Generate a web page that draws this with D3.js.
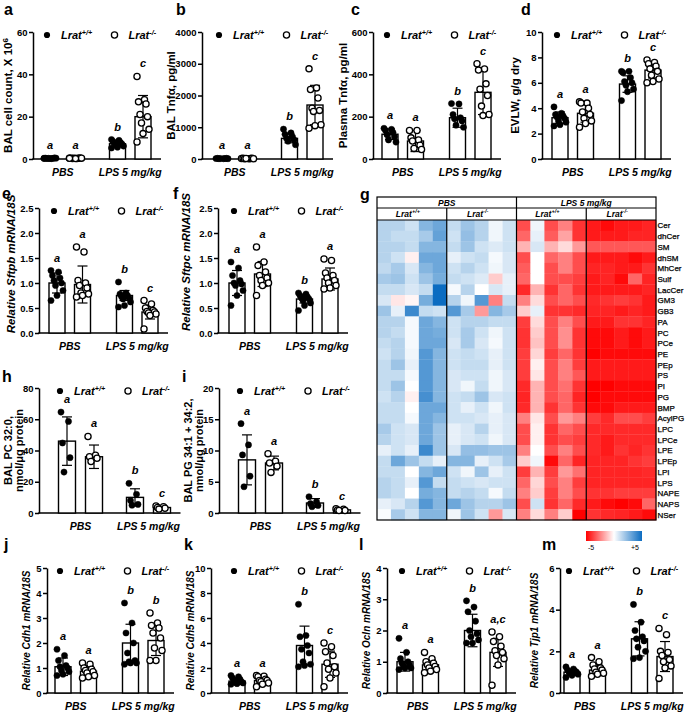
<!DOCTYPE html>
<html>
<head>
<meta charset="utf-8">
<script src="https://cdn.jsdelivr.net/npm/d3@7"></script>
<style>
body { margin: 0; background: #fff; }
text { font-family: "Liberation Sans", Arial, sans-serif; }
</style>
</head>
<body>
<div id="fig"></div>
<script>
// ---- data ----
var groups = ["PBS", "LPS 5 mg/kg"];
var genoSup = ["+/+", "-/-"];

// a: BAL cell count
var aTicks = [0, 20, 40, 60];
var aMean = [0.3, 0.3, 7.2, 20];
var aSD = [0.15, 0.15, 1.3, 10];
var aSig = ["a", "a", "b", "c"];
var aPts = [
  [0.3, 0.2, 0.4, 0.3, 0.2, 0.5, 0.3, 0.4, 0.2, 0.3],
  [0.3, 0.2, 0.4, 0.3, 0.2, 0.5, 0.3, 0.4, 0.2, 0.3],
  [9.2, 8.8, 8.3, 7.8, 7.4, 7.0, 6.6, 6.1, 5.6, 5.2],
  [39, 28, 27, 26, 21, 20, 17, 14, 12, 8]
];
// b: BAL Tnfa
var bTicks = [0, 1000, 2000, 3000, 4000];
var bMean = [15, 15, 650, 1700];
var bSD = [5, 5, 140, 620];
var bSig = ["a", "a", "b", "c"];
var bPts = [
  [15, 10, 20, 15, 10, 20, 15, 10],
  [15, 10, 20, 15, 10, 20, 15, 10],
  [940, 820, 780, 700, 650, 600, 560, 450],
  [2840, 2240, 2190, 1920, 1600, 1530, 1500, 1080, 1050, 970]
];
// c: Plasma Tnfa
var cTicks = [0, 200, 400, 600];
var cMean = [117, 85, 195, 315];
var cSD = [25, 50, 45, 105];
var cSig = ["a", "a", "b", "c"];
var cPts = [
  [145, 140, 135, 125, 115, 105, 90, 80],
  [135, 135, 100, 90, 85, 65, 50, 45],
  [262, 260, 210, 195, 190, 180, 160, 150],
  [450, 425, 420, 355, 330, 300, 250, 210, 205]
];
// d: EVLW
var dTicks = [0, 2, 4, 6, 8, 10];
var dMean = [3.25, 3.6, 5.9, 7.0];
var dSD = [0.45, 0.7, 0.65, 0.62];
var dSig = ["a", "a", "b", "c"];
var dPts = [
  [4.1, 3.6, 3.5, 3.4, 3.3, 3.2, 3.0, 2.9, 2.7, 2.6],
  [4.5, 4.4, 4.4, 4.0, 3.7, 3.5, 3.2, 3.0, 2.8, 2.5],
  [6.9, 6.9, 6.8, 6.4, 6.1, 6.0, 5.8, 5.5, 5.3, 4.6],
  [7.8, 7.6, 7.5, 7.3, 7.1, 6.9, 6.6, 6.3, 6.1, 6.0]
];
// e: Sftpb
var eTicks = [0, 0.5, 1.0, 1.5, 2.0, 2.5];
var eMean = [1.0, 0.97, 0.75, 0.42];
var eSD = [0.2, 0.37, 0.1, 0.14];
var eSig = ["a", "a", "b", "c"];
var ePts = [
  [1.25, 1.22, 1.15, 1.1, 1.05, 1.0, 0.95, 0.85, 0.75, 0.65],
  [1.72, 1.62, 1.05, 1.0, 0.95, 0.9, 0.8, 0.78, 0.75, 0.72],
  [1.02, 0.8, 0.78, 0.75, 0.73, 0.7, 0.68, 0.62, 0.55, 0.52],
  [0.65, 0.58, 0.5, 0.45, 0.43, 0.42, 0.4, 0.38, 0.35, 0.08]
];
// f: Sftpc
var fTicks = [0, 0.5, 1.0, 1.5, 2.0, 2.5];
var fMean = [1.0, 1.18, 0.68, 1.08];
var fSD = [0.25, 0.25, 0.08, 0.22];
var fSig = ["a", "a", "b", "a"];
var fPts = [
  [1.42, 1.3, 1.15, 1.05, 1.0, 0.98, 0.95, 0.85, 0.75, 0.55],
  [1.72, 1.42, 1.35, 1.22, 1.15, 1.1, 1.05, 1.0, 0.95, 0.75],
  [0.8, 0.78, 0.75, 0.72, 0.7, 0.68, 0.65, 0.6, 0.55, 0.45],
  [1.48, 1.45, 1.2, 1.15, 1.1, 1.05, 1.0, 0.95, 0.9, 0.88]
];
// h: BAL PC 32:0
var hTicks = [0, 20, 40, 60, 80];
var hMean = [46, 36, 10, 3.5];
var hSD = [15.5, 7.5, 5.5, 0.8];
var hSig = ["a", "a", "b", "c"];
var hPts = [
  [64.6, 58.6, 44.8, 35.4, 26.2],
  [49, 37, 36, 35, 33],
  [19, 12, 8, 5.5, 5],
  [4.5, 4, 3.5, 3, 2.5]
];
// i: BAL PG 34:1 + 34:2
var iTicks = [0, 5, 10, 15, 20];
var iMean = [8.5, 8.0, 1.6, 0.5];
var iSD = [4, 1.1, 0.7, 0.15];
var iSig = ["a", "a", "b", "c"];
var iPts = [
  [14.3, 10.9, 9.3, 5.9, 4.2],
  [9.5, 8.3, 8.0, 7.5, 6.5],
  [2.6, 1.8, 1.5, 1.2, 1.0],
  [0.7, 0.6, 0.5, 0.4, 0.4]
];
// j: Cdh1
var jTicks = [0, 1, 2, 3, 4, 5];
var jMean = [1.05, 0.87, 2.0, 2.1];
var jSD = [0.35, 0.22, 0.75, 0.6];
var jSig = ["a", "a", "b", "b"];
var jPts = [
  [1.75, 1.5, 1.3, 1.1, 1.05, 1.0, 0.9, 0.85, 0.75, 0.7],
  [1.2, 1.15, 1.0, 0.95, 0.9, 0.85, 0.8, 0.7, 0.65, 0.6],
  [3.6, 2.8, 2.4, 2.0, 1.6, 1.3, 1.25, 1.2, 1.2, 1.15],
  [3.2, 2.8, 2.7, 2.6, 2.4, 2.2, 1.8, 1.7, 1.3, 1.3]
];
// k: Cdh5
var kTicks = [0, 2, 4, 6, 8, 10];
var kMean = [0.95, 1.0, 3.8, 2.3];
var kSD = [0.25, 0.25, 1.55, 1.05];
var kSig = ["a", "a", "b", "c"];
var kPts = [
  [1.4, 1.3, 1.2, 1.1, 1.0, 0.9, 0.85, 0.8, 0.75, 0.7],
  [1.4, 1.35, 1.3, 1.1, 1.0, 1.0, 0.9, 0.8, 0.7, 0.5],
  [7.1, 4.6, 4.5, 3.8, 3.5, 3.2, 2.5, 2.3, 2.2, 2.1],
  [4.0, 3.7, 3.3, 3.0, 2.4, 2.1, 1.9, 1.6, 1.2, 0.5]
];
// l: Ocln
var lTicks = [0, 1, 2, 3, 4];
var lMean = [1.0, 0.9, 2.0, 1.3];
var lSD = [0.3, 0.17, 0.52, 0.45];
var lSig = ["a", "a", "b", "a,c"];
var lPts = [
  [1.75, 1.3, 1.1, 1.0, 0.95, 0.9, 0.85, 0.8, 0.8, 0.75],
  [1.3, 1.1, 1.0, 0.95, 0.9, 0.85, 0.8, 0.75, 0.7, 0.65],
  [2.95, 2.75, 2.6, 2.3, 2.0, 1.9, 1.8, 1.7, 1.6, 1.6],
  [1.95, 1.8, 1.65, 1.5, 1.35, 1.3, 1.2, 1.1, 0.9, 0.25]
];
// m: Tjp1
var mTicks = [0, 2, 4, 6];
var mMean = [1.0, 1.1, 2.6, 1.75];
var mSD = [0.15, 0.25, 0.82, 0.72];
var mSig = ["a", "a", "b", "c"];
var mPts = [
  [1.25, 1.15, 1.1, 1.05, 1.0, 1.0, 0.95, 0.9, 0.85, 0.75],
  [1.7, 1.5, 1.35, 1.2, 1.15, 1.1, 1.0, 0.95, 0.9, 0.8],
  [4.25, 3.4, 3.0, 2.7, 2.6, 2.5, 2.2, 2.0, 1.7, 1.65],
  [3.1, 2.8, 2.0, 1.95, 1.8, 1.6, 1.5, 1.3, 1.2, 0.7]
];

// g: lipid heatmap (z-scores, + blue / - red), 4 groups x 5 mice
var lipids = ["Cer", "dhCer", "SM", "dhSM", "MhCer", "Sulf", "LacCer", "GM3", "GB3", "PA", "PC", "PCe",
  "PE", "PEp", "PS", "PI", "PG", "BMP", "AcylPG", "LPC", "LPCe", "LPE", "LPEp", "LPI", "LPS", "NAPE", "NAPS", "NSer"];
var heatGroups = ["PBS", "LPS 5 mg/kg"];
var heatValues = [
  [1.5, 1.5, 1, 2.5, 3,   1.2, 2, 1.5, 0.3, 1,   -3.5, 0.3, -3.5, -2.5, -4,   -4.5, -4.8, -4.5, -4.5, -4.3],
  [1.5, 1.2, 1.2, 1.8, 3.2,   1, 2.2, 1.5, 0.3, 1,   -3, 0.5, -3.2, -1.8, -4,   -4.5, -4.5, -4.5, -4.3, -4.3],
  [1.5, 1.5, 1.2, 2.5, 2.5,   1.2, 2, 1, 0.7, 1,   -1.5, 0.8, -1.5, -0.7, -2,   -3.3, -3.3, -3.3, -3.3, -3.3],
  [1.5, 1, -0.3, 3, 3,   0.5, 1, 1.2, 0.2, 0.8,   -3.5, 0, -3, -2.5, -3.5,   -4.5, -4.5, -4.5, -4.8, -4.5],
  [1.3, 1.8, 0.8, 2.5, 3,   1, 1.5, 1, 0.3, 0.8,   -3.2, 0, -3.5, -2.5, -3.5,   -4.3, -4.3, -4.5, -4.5, -4],
  [1.8, 2, 1, 2, 2.8,   1.2, 1, 0.7, -1, 0.5,   -3, 0, -3.5, -3.5, -3.8,   -4.5, -4.3, -4.8, -3, -4.3],
  [1.2, 1.2, 0.8, 1.2, 5,   0.2, 1.5, 0, 0.8, 0.5,   -4.2, -1.5, -4, -3, -4,   -4.5, -4.5, -4.5, -4.5, -4.3],
  [0.8, -0.5, -0.2, 2.8, 5,   1.5, 0.3, 3.5, -2.5, 1.2,   -2.5, -0.7, -3.5, -3, -3.5,   -4.2, -4, -3.8, -4, -4.5],
  [2, 0.5, 4, 1.2, 1,   3.5, 1.8, -2, 2.5, 1.8,   -1, 0.5, -4, -4, -4.2,   -4.3, -4.3, -4.5, -4.3, -4.5],
  [1.5, 1.5, 0.2, 3, 2.5,   1, 1.5, 1.5, 1.2, 1.2,   -3.8, -0.7, -3.5, -2.5, -3.5,   -4.5, -4.5, -4, -4, -4.3],
  [1.5, 1.2, 0.2, 3, 2.8,   1, 1.8, 1, 0.3, 1,   -4, -1, -3.5, -2.2, -4,   -4.8, -4.8, -4.5, -4.8, -4.5],
  [1.2, 1.5, 0.2, 3, 3,   0.8, 1.8, 0.8, 0.2, 1,   -4, -1.2, -3.5, -2.2, -4,   -4.8, -4.8, -4.5, -4.8, -4.5],
  [1, 1.5, 0.3, 3.5, 2.5,   1, 1.2, 1, 0.5, 1,   -3.8, -0.8, -3.8, -3, -4,   -5, -4.8, -4.8, -4.8, -4.8],
  [1.2, 2, 0.5, 3.5, 2.5,   1, 1.2, 1.2, 0.5, 1,   -3.8, -0.3, -3.5, -2.5, -3.8,   -4.5, -4.5, -4.5, -4.5, -4.5],
  [1.2, 1.2, 0.2, 3.5, 2.5,   0.8, 1, 1, 0.3, 0.8,   -3.8, -0.5, -3.5, -2.5, -3.3,   -4.5, -4.5, -4.5, -4.5, -4.5],
  [1.2, 2, 0, 3.5, 2.5,   0.8, 0.3, 1.2, 0.3, 0.8,   -4.2, -1.5, -3.5, -2.8, -4,   -5, -5, -4.8, -4.8, -4.8],
  [1, 1.5, -0.3, 3.8, 2.5,   1, 1.2, 2, 0.8, 1,   -4.3, -1.5, -3.5, -3, -4.3,   -5, -4.8, -4.8, -4.8, -4.8],
  [1.2, 1.2, 0, 3, 3,   1, 0.5, 1, 0.3, 1,   -4.2, -1.5, -4, -3, -4,   -4.8, -4.8, -4.5, -4.5, -4.5],
  [1.2, 1.2, 0.2, 3, 2.5,   1, 1, 0.8, 0.5, 0.8,   -2.5, -0.5, -3.5, -2, -2.5,   -3.8, -4.2, -3.5, -3.5, -3.8],
  [1.8, 1, 0.8, 3, 2,   0.5, 0.8, 1.5, 0.5, 0.8,   -3.5, -0.3, -4, -3, -3.5,   -4.2, -4.2, -4.2, -4.2, -4.2],
  [1.5, 1, 0.8, 3, 2,   0.5, 0.8, 1, 0.3, 0.8,   -3.5, -0.3, -4, -3.5, -3.8,   -4.2, -4.5, -4.2, -4.2, -4.2],
  [0.5, 1, 0.5, 4, 2,   0.8, 2.2, 2.2, 2, 2,   -2.5, 0, -3.5, -2.5, -3.5,   -4.2, -4.5, -4, -4.3, -4],
  [1.2, 3, 2, 1.2, 0.5,   2.5, 2.5, 0.5, 1, 1.8,   -1, 0.3, -4.8, -3, -4.3,   -4.3, -4.3, -4.3, -4, -3.8],
  [1.2, 1.2, 0, 2.5, 3,   1, 0.3, 2, 0.5, 1,   -3.8, -1.5, -3.8, -2, -2.8,   -4.3, -4.3, -4.3, -4.3, -4.2],
  [1.5, 1.2, 0.5, 3.5, 1.2,   1.2, 1, 0.8, 1, 1,   -3, -0.8, -3.5, -2.5, -3.8,   -4.3, -4.3, -4.3, -4.3, -4.3],
  [1.5, 1.2, 0, 2.8, 2.5,   1.2, 1.5, 1.2, 0.2, 1.2,   -2.5, -1, -3.8, -2.5, -3.5,   -4, -4, -3.8, -3.8, -3.8],
  [0.5, 0.8, 1.5, 3.5, 2.5,   3, 2, 1.5, 1.5, 2,   -3.5, 1, -4, -3, -4.2,   -4.5, -4.8, -5, -4.8, -3],
  [0.1, 1.8, 1, 2.5, 2.5,   0.3, 2, 1, -2, 0.8,   -2.5, -0.7, -2.5, -1, -5,   -4, -4.2, -4.3, -4.5, -4.8]
];
var heatLegendTicks = ["-5", "+5"];

// ---- layout ----
var svg = d3.select("#fig").append("svg")
    .attr("width", 685)
    .attr("height", 712);

// lo = distance from axis to centre of the rotated y label (one per line)
var panels = [
  {letter: "a", lx: 4, ly: 15, ax: 33, o: 17, top: 32, bottom: 159, ticks: aTicks, mean: aMean, sd: aSD, pts: aPts, sig: aSig,
   label: [[{t: "BAL cell count, X 10"}, {t: "6", sup: true}]], lo: [25], ls: "normal", lsize: 11.5},
  {letter: "b", lx: 176, ly: 15, ax: 202, o: 20, top: 32, bottom: 159, ticks: bTicks, mean: bMean, sd: bSD, pts: bPts, sig: bSig,
   label: [[{t: "BAL Tnf\u03b1, pg/ml"}]], lo: [31], ls: "normal", lsize: 11.5},
  {letter: "c", lx: 351, ly: 15, ax: 373, o: 17, top: 32, bottom: 159, ticks: cTicks, mean: cMean, sd: cSD, pts: cPts, sig: cSig,
   label: [[{t: "Plasma Tnf\u03b1, pg/ml"}]], lo: [30], ls: "normal", lsize: 11.5},
  {letter: "d", lx: 521, ly: 15, ax: 542, o: 18, top: 32, bottom: 159, ticks: dTicks, mean: dMean, sd: dSD, pts: dPts, sig: dSig,
   label: [[{t: "EVLW, g/g dry"}]], lo: [27], ls: "normal", lsize: 11.5},
  {letter: "e", lx: 2, ly: 199, ax: 39, o: 18, top: 208, bottom: 333, ticks: eTicks, mean: eMean, sd: eSD, pts: ePts, sig: eSig,
   label: [[{t: "Relative Sftpb mRNA/18S"}]], lo: [28], ls: "italic", lsize: 11.5, lyc: 264, fmt: ".1f"},
  {letter: "f", lx: 173, ly: 199, ax: 218, o: 19, top: 208, bottom: 333, ticks: fTicks, mean: fMean, sd: fSD, pts: fPts, sig: fSig,
   label: [[{t: "Relative Sftpc mRNA/18S"}]], lo: [32], ls: "italic", lsize: 11.5, lyc: 262, fmt: ".1f"},
  {letter: "h", lx: 2, ly: 382, ax: 39, o: 28, wide: true, top: 388, bottom: 513, ticks: hTicks, mean: hMean, sd: hSD, pts: hPts, sig: hSig,
   label: [[{t: "BAL PC 32:0,"}], [{t: "nmol/\u03bcg protein"}]], lo: [31, 20], ls: "normal", lsize: 11},
  {letter: "i", lx: 182, ly: 382, ax: 219, o: 28, wide: true, top: 388, bottom: 513, ticks: iTicks, mean: iMean, sd: iSD, pts: iPts, sig: iSig,
   label: [[{t: "BAL PG 34:1 + 34:2,"}], [{t: "nmol/\u03bcg protein"}]], lo: [31, 20], ls: "normal", lsize: 11},
  {letter: "j", lx: 4, ly: 550, ax: 47, o: 16, top: 568, bottom: 693, ticks: jTicks, mean: jMean, sd: jSD, pts: jPts, sig: jSig,
   label: [[{t: "Relative Cdh1 mRNA/18S"}]], lo: [21], ls: "italic", lsize: 10},
  {letter: "k", lx: 184, ly: 550, ax: 211, o: 26, top: 568, bottom: 693, ticks: kTicks, mean: kMean, sd: kSD, pts: kPts, sig: kSig,
   label: [[{t: "Relative Cdh5 mRNA/18S"}]], lo: [21], ls: "italic", lsize: 10},
  {letter: "l", lx: 359, ly: 550, ax: 387, o: 18, top: 568, bottom: 693, ticks: lTicks, mean: lMean, sd: lSD, pts: lPts, sig: lSig,
   label: [[{t: "Relative Ocln mRNA/18S"}]], lo: [21], ls: "italic", lsize: 10},
  {letter: "m", lx: 542, ly: 550, ax: 560, o: 12, top: 568, bottom: 693, ticks: mTicks, mean: mMean, sd: mSD, pts: mPts, sig: mSig,
   label: [[{t: "Relative Tjp1 mRNA/18S"}]], lo: [26], ls: "italic", lsize: 10}
];

function lratText(sel, i, size) {
    sel.append("tspan").text("Lrat");
    sel.append("tspan").attr("dy", -4).attr("font-size", size * 0.65).text(genoSup[i]);
}

function drawPanel(p) {
    var g = svg.append("g");
    var y = d3.scaleLinear()
        .domain([0, p.ticks[p.ticks.length - 1]])
        .range([p.bottom, p.top]);
    var gap = p.wide ? 27 : 25.5;
    var sep = p.wide ? 68 : 67.5;
    var bw = p.wide ? 17 : 16;
    var x = d3.scalePoint()
        .domain(groups)
        .range([p.ax + p.o + gap / 2, p.ax + p.o + gap / 2 + sep]);
    var cx = function (i) { return x(groups[Math.floor(i / 2)]) + (i % 2 ? gap / 2 : -gap / 2); };
    var xEnd = cx(3) + bw / 2 + 10;

    // y axis
    var yAxis = d3.axisLeft(y)
        .tickValues(p.ticks)
        .tickSize(4)
        .tickSizeOuter(0)
        .tickPadding(1.5)
        .tickFormat(d3.format(p.fmt || "d"));
    var ya = g.append("g")
        .attr("transform", "translate(" + p.ax + ",0)")
        .call(yAxis);
    ya.select(".domain").attr("stroke-width", 1.5);
    ya.selectAll(".tick line").attr("stroke-width", 1.5);
    ya.selectAll(".tick text").attr("font-size", 9.5).attr("font-weight", "bold").attr("fill", "#000");

    // x axis line
    g.append("line")
        .attr("x1", p.ax - 0.75).attr("x2", xEnd)
        .attr("y1", p.bottom).attr("y2", p.bottom)
        .attr("stroke", "#000").attr("stroke-width", 1.5);

    // bars
    g.selectAll("rect.bar")
        .data(p.mean)
        .enter()
        .append("rect")
        .attr("class", "bar")
        .attr("x", function (d, i) { return cx(i) - bw / 2; })
        .attr("y", function (d) { return y(d); })
        .attr("width", bw)
        .attr("height", function (d) { return p.bottom - y(d); })
        .attr("fill", "#fff")
        .attr("stroke", "#000")
        .attr("stroke-width", 1.4);

    // error bars (mean +/- SD)
    p.mean.forEach(function (m, i) {
        var hi = y(m + p.sd[i]), lo = y(Math.max(0, m - p.sd[i]));
        var eb = g.append("g").attr("stroke", "#000").attr("stroke-width", 1.2);
        eb.append("line").attr("x1", cx(i)).attr("x2", cx(i)).attr("y1", hi).attr("y2", lo);
        eb.append("line").attr("x1", cx(i) - 5).attr("x2", cx(i) + 5).attr("y1", hi).attr("y2", hi);
        eb.append("line").attr("x1", cx(i) - 5).attr("x2", cx(i) + 5).attr("y1", lo).attr("y2", lo);
    });

    // individual animals
    p.pts.forEach(function (arr, i) {
        g.selectAll(null)
            .data(arr)
            .enter()
            .append("circle")
            .attr("cx", function (d, k) { return cx(i) + (((k * 5) % 9) - 4) * 1.5; })
            .attr("cy", function (d) { return y(d); })
            .attr("r", 3.1)
            .attr("fill", i % 2 ? "#fff" : "#000")
            .attr("stroke", "#000")
            .attr("stroke-width", i % 2 ? 1.3 : 0.5);
    });

    // significance letters
    p.sig.forEach(function (s, i) {
        var top = Math.max(d3.max(p.pts[i]), p.mean[i] + p.sd[i]);
        g.append("text")
            .attr("x", cx(i))
            .attr("y", y(top) - 9)
            .attr("text-anchor", "middle")
            .attr("font-size", 11)
            .attr("font-weight", "bold")
            .attr("font-style", "italic")
            .text(s);
    });

    // legend
    var legY = p.top + 3;
    var lx0 = cx(0) - (p.wide ? 7 : 3), lx1 = cx(2) - (p.wide ? 7 : 3);
    g.append("circle").attr("cx", lx0).attr("cy", legY).attr("r", 3.1).attr("fill", "#000");
    g.append("circle").attr("cx", lx1).attr("cy", legY).attr("r", 3.1).attr("fill", "#fff")
        .attr("stroke", "#000").attr("stroke-width", 1.3);
    [lx0, lx1].forEach(function (lx, i) {
        var t = g.append("text")
            .attr("x", lx + 14).attr("y", legY + 4)
            .attr("font-size", 11).attr("font-weight", "bold").attr("font-style", "italic");
        lratText(t, i, 11);
    });

    // group labels
    groups.forEach(function (gname) {
        g.append("text")
            .attr("x", x(gname))
            .attr("y", p.bottom + 17)
            .attr("text-anchor", "middle")
            .attr("font-size", 10.5)
            .attr("font-weight", "bold")
            .attr("font-style", "italic")
            .text(gname);
    });

    // y label
    var yc = p.lyc || (p.top + p.bottom) / 2;
    p.label.forEach(function (line, li) {
        var bx = p.ax - p.lo[li] + p.lsize * 0.36;
        var t = g.append("text")
            .attr("transform", "translate(" + bx + "," + yc + ") rotate(-90)")
            .attr("text-anchor", "middle")
            .attr("font-size", p.lsize)
            .attr("font-weight", "bold")
            .attr("font-style", p.ls);
        line.forEach(function (part) {
            var ts = t.append("tspan").text(part.t);
            if (part.sup) ts.attr("dy", -4).attr("font-size", 8);
        });
    });

    // panel letter
    svg.append("text")
        .attr("x", p.lx).attr("y", p.ly)
        .attr("font-size", 16).attr("font-weight", "bold")
        .text(p.letter);
}

panels.forEach(drawPanel);

// ---- heatmap (g) ----
svg.append("text").attr("x", 360).attr("y", 200)
    .attr("font-size", 16).attr("font-weight", "bold").text("g");

var hx0 = 377, hx1 = 656, hyTop = 197, hyMid = 208, hyCells = 220, hyBot = 520;
var hx = d3.scaleBand().domain(d3.range(20)).range([hx0, hx1]);
var hy = d3.scaleBand().domain(lipids).range([hyCells, hyBot]);
var heatColor = d3.scaleLinear()
    .domain([-5, 0, 5])
    .range(["#ff0000", "#ffffff", "#0b6cc1"])
    .clamp(true);

var hg = svg.append("g");
lipids.forEach(function (lip, r) {
    hg.selectAll(null)
        .data(heatValues[r])
        .enter()
        .append("rect")
        .attr("x", function (d, c) { return hx(c); })
        .attr("y", hy(lip))
        .attr("width", hx.bandwidth() + 0.3)
        .attr("height", hy.bandwidth() + 0.3)
        .attr("fill", function (d) { return heatColor(d); });
    hg.append("text")
        .attr("x", hx1 + 1.5)
        .attr("y", hy(lip) + hy.bandwidth() / 2 + 3)
        .attr("font-size", 8)
        .attr("stroke", "#000")
        .attr("stroke-width", 0.25)
        .text(lip);
});

// header boxes and separators
var quarter = (hx1 - hx0) / 4;
hg.append("rect").attr("x", hx0).attr("y", hyTop).attr("width", hx1 - hx0).attr("height", hyBot - hyTop)
    .attr("fill", "none").attr("stroke", "#000").attr("stroke-width", 1.2);
hg.append("line").attr("x1", hx0).attr("x2", hx1).attr("y1", hyMid).attr("y2", hyMid)
    .attr("stroke", "#000").attr("stroke-width", 1);
hg.append("line").attr("x1", hx0).attr("x2", hx1).attr("y1", hyCells).attr("y2", hyCells)
    .attr("stroke", "#000").attr("stroke-width", 1);
[1, 2, 3].forEach(function (k) {
    hg.append("line")
        .attr("x1", hx0 + k * quarter).attr("x2", hx0 + k * quarter)
        .attr("y1", k === 2 ? hyTop : hyMid).attr("y2", hyBot)
        .attr("stroke", "#000").attr("stroke-width", 1.2);
});
heatGroups.forEach(function (gname, k) {
    hg.append("text")
        .attr("x", hx0 + (2 * k + 1) * quarter)
        .attr("y", hyMid - 2.5)
        .attr("text-anchor", "middle")
        .attr("font-size", 8.5).attr("font-weight", "bold").attr("font-style", "italic")
        .text(gname);
});
[0, 1, 2, 3].forEach(function (k) {
    var t = hg.append("text")
        .attr("x", hx0 + (k + 0.5) * quarter - 4)
        .attr("y", hyCells - 3)
        .attr("text-anchor", "middle")
        .attr("font-size", 8.5).attr("font-weight", "bold").attr("font-style", "italic");
    lratText(t, k % 2, 8.5);
});

// colour key
var defs = svg.append("defs");
var grad = defs.append("linearGradient").attr("id", "heatgrad");
grad.selectAll("stop")
    .data([-5, 0, 5])
    .enter()
    .append("stop")
    .attr("offset", function (d) { return (d + 5) * 10 + "%"; })
    .attr("stop-color", function (d) { return heatColor(d); });
svg.append("rect").attr("x", 586).attr("y", 531).attr("width", 56).attr("height", 10)
    .attr("fill", "url(#heatgrad)");
svg.selectAll("text.key")
    .data(heatLegendTicks)
    .enter()
    .append("text")
    .attr("class", "key")
    .attr("x", function (d, i) { return i ? 635 : 591; })
    .attr("y", 550)
    .attr("text-anchor", "middle")
    .attr("font-size", 7)
    .text(function (d) { return d; });
</script>
</body>
</html>
